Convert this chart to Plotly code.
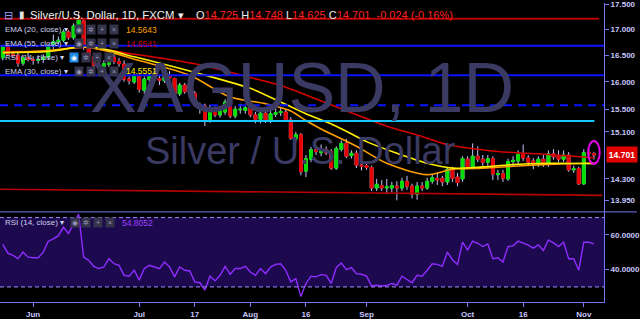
import math
import pandas as pd
import plotly.graph_objects as go

# ---------------- data ----------------
dates = pd.bdate_range("2018-05-24", "2018-11-05").strftime("%Y-%m-%d").tolist()

opens = [16.45, 16.66, 16.52, 16.50, 16.35, 16.45, 16.42, 16.40, 16.42, 16.46,
         16.68, 16.76, 16.79, 16.95, 16.84, 17.05, 17.17, 16.62, 16.47, 16.31,
         16.28, 16.33, 16.46, 16.38, 16.33, 16.05, 16.00, 16.10, 15.84, 16.04,
         16.09, 16.06, 16.02, 16.12, 16.06, 15.78, 15.94, 15.82, 15.79, 15.58,
         15.56, 15.30, 15.50, 15.40, 15.45, 15.62, 15.38, 15.49, 15.48, 15.53,
         15.40, 15.32, 15.43, 15.30, 15.41, 15.44, 15.45, 15.31, 14.98, 15.05,
         14.43, 14.63, 14.79, 14.74, 14.79, 14.76, 14.48, 14.80, 14.90, 14.69,
         14.73, 14.53, 14.52, 14.49, 14.15, 14.19, 14.15, 14.15, 14.18, 14.15,
         14.26, 14.18, 14.05, 14.18, 14.15, 14.26, 14.31, 14.31, 14.25, 14.46,
         14.33, 14.30, 14.63, 14.50, 14.68, 14.63, 14.58, 14.64, 14.37, 14.39,
         14.30, 14.59, 14.60, 14.71, 14.65, 14.60, 14.55, 14.63, 14.55, 14.72,
         14.68, 14.63, 14.70, 14.45, 14.47, 14.22, 14.74, 14.725]
highs = [16.70, 16.72, 16.56, 16.58, 16.50, 16.55, 16.48, 16.50, 16.52, 16.72,
         16.90, 16.86, 17.00, 16.98, 17.12, 17.34, 17.22, 16.66, 16.50, 16.38,
         16.40, 16.50, 16.52, 16.45, 16.40, 16.10, 16.15, 16.14, 16.10, 16.15,
         16.15, 16.12, 16.16, 16.20, 16.08, 15.98, 15.98, 15.86, 15.83, 15.62,
         15.60, 15.58, 15.55, 15.55, 15.68, 15.68, 15.56, 15.60, 15.58, 15.60,
         15.45, 15.48, 15.50, 15.47, 15.55, 15.52, 15.50, 15.36, 15.10, 15.08,
         14.70, 14.84, 14.86, 14.88, 14.85, 14.80, 14.85, 14.95, 14.98, 14.78,
         14.78, 14.60, 14.56, 14.52, 14.30, 14.28, 14.30, 14.25, 14.26, 14.32,
         14.35, 14.22, 14.25, 14.25, 14.32, 14.38, 14.40, 14.35, 14.50, 14.50,
         14.40, 14.68, 14.68, 14.90, 14.85, 14.70, 14.70, 14.68, 14.45, 14.45,
         14.64, 14.68, 14.78, 14.88, 14.70, 14.65, 14.68, 14.70, 14.78, 14.80,
         14.78, 14.78, 14.75, 14.52, 14.50, 14.80, 14.80, 14.748]
lows = [16.40, 16.48, 16.45, 16.28, 16.30, 16.38, 16.32, 16.34, 16.35, 16.42,
        16.62, 16.70, 16.75, 16.80, 16.80, 17.00, 16.60, 16.42, 16.25, 16.22,
        16.22, 16.28, 16.33, 16.28, 16.00, 15.95, 15.96, 15.80, 15.78, 16.00,
        16.00, 15.94, 15.98, 15.98, 15.74, 15.74, 15.78, 15.70, 15.55, 15.42,
        15.20, 15.26, 15.36, 15.35, 15.40, 15.34, 15.34, 15.42, 15.42, 15.36,
        15.25, 15.25, 15.26, 15.25, 15.36, 15.38, 15.28, 14.96, 14.92, 14.36,
        14.33, 14.58, 14.70, 14.68, 14.70, 14.45, 14.45, 14.76, 14.65, 14.64,
        14.48, 14.44, 14.45, 14.10, 14.10, 14.10, 14.05, 14.08, 13.95, 14.10,
        14.12, 13.98, 13.96, 14.10, 14.12, 14.22, 14.20, 14.18, 14.20, 14.25,
        14.18, 14.25, 14.46, 14.46, 14.58, 14.52, 14.52, 14.28, 14.28, 14.25,
        14.27, 14.50, 14.55, 14.60, 14.53, 14.46, 14.50, 14.50, 14.50, 14.62,
        14.58, 14.58, 14.42, 14.40, 14.20, 14.20, 14.66, 14.625]
closes = [16.66, 16.52, 16.50, 16.35, 16.45, 16.42, 16.40, 16.42, 16.46, 16.68,
          16.76, 16.79, 16.95, 16.84, 17.07, 17.19, 16.65, 16.48, 16.31, 16.29,
          16.34, 16.47, 16.38, 16.34, 16.05, 16.02, 16.11, 15.86, 16.05, 16.10,
          16.06, 16.03, 16.11, 16.07, 15.78, 15.94, 15.82, 15.80, 15.58, 15.56,
          15.30, 15.52, 15.40, 15.48, 15.63, 15.38, 15.50, 15.50, 15.53, 15.40,
          15.32, 15.43, 15.31, 15.42, 15.44, 15.46, 15.31, 14.99, 15.05, 14.42,
          14.64, 14.79, 14.76, 14.79, 14.74, 14.48, 14.81, 14.90, 14.68, 14.73,
          14.53, 14.51, 14.49, 14.15, 14.21, 14.15, 14.17, 14.19, 14.15, 14.26,
          14.18, 14.05, 14.18, 14.15, 14.26, 14.32, 14.28, 14.25, 14.46, 14.31,
          14.24, 14.64, 14.50, 14.68, 14.63, 14.58, 14.64, 14.38, 14.39, 14.31,
          14.59, 14.61, 14.71, 14.65, 14.58, 14.55, 14.63, 14.54, 14.72, 14.67,
          14.63, 14.70, 14.45, 14.47, 14.22, 14.74, 14.725, 14.701]

rsi = [54.5, 49.5, 48.2, 46.3, 50.1, 47.2, 46.8, 46.8, 50.1, 56.4,
       57.7, 59.6, 64.4, 60.9, 66.3, 72.0, 47.2, 45.3, 41.9, 40.6,
       41.5, 46.3, 43.4, 42.5, 36.7, 36.2, 39.6, 33.9, 40.6, 42.5,
       41.5, 40.6, 44.4, 41.5, 35.8, 41.5, 39.6, 39.2, 32.9, 32.4,
       28.2, 36.2, 33.5, 36.7, 41.9, 37.3, 40.6, 40.6, 41.9, 38.6,
       36.7, 40.6, 37.7, 41.5, 43.0, 43.4, 39.6, 32.9, 34.8, 24.4,
       32.0, 36.2, 35.8, 37.1, 36.7, 32.0, 41.1, 43.8, 40.0, 41.1,
       37.7, 37.3, 36.2, 30.5, 31.0, 30.5, 30.8, 32.0, 31.0, 36.2,
       34.3, 32.4, 36.7, 36.2, 39.6, 43.4, 43.0, 41.9, 50.1, 45.7,
       43.0, 55.8, 51.4, 56.4, 55.2, 53.3, 54.8, 46.3, 46.8, 44.4,
       53.3, 53.7, 56.4, 55.4, 54.1, 52.4, 54.3, 51.0, 57.1, 55.4,
       53.3, 55.8, 46.3, 46.3, 39.6, 55.8, 55.8, 54.8052]

# EMA readings (bar position in `dates`, value)
ema20_pos = [0, 9, 17, 27, 37, 45, 52, 57, 60, 63, 70, 76, 84, 89, 95, 101, 108, 117]
ema20_val = [16.55, 16.59, 16.65, 16.40, 16.12, 15.72, 15.60, 15.47, 15.30, 15.15,
             14.85, 14.56, 14.37, 14.46, 14.48, 14.51, 14.54, 14.5643]
ema30_pos = [0, 9, 17, 26, 29, 39, 49, 55, 60, 66, 72, 78, 84, 89, 95, 101, 108, 117]
ema30_val = [16.55, 16.57, 16.67, 16.47, 16.40, 16.15, 15.88, 15.63, 15.42, 15.20,
             14.93, 14.73, 14.56, 14.48, 14.50, 14.54, 14.56, 14.5551]
ema55_pos = [0, 9, 16, 26, 31, 39, 49, 55, 60, 70, 76, 83, 88, 98, 108, 117]
ema55_val = [16.57, 16.58, 16.65, 16.52, 16.45, 16.32, 16.08, 15.93, 15.76, 15.40,
             15.20, 15.02, 14.88, 14.76, 14.71, 14.6541]

# drawn horizontal levels
level_red_top = 17.21
level_blue = [16.68, 16.12]
level_blue_dash = 15.57
level_cyan = 15.29
trend_red = (14.13, 14.03)   # left / right value of the lower trend line

price_ticks = [17.5, 17.0, 16.5, 16.0, 15.5, 15.1, 14.3, 13.95]
rsi_ticks = [60, 40]
x_tick_dates = ["2018-06-01", "2018-07-02", "2018-07-17", "2018-08-01", "2018-08-16",
                "2018-09-03", "2018-10-01", "2018-10-16", "2018-11-01"]
x_tick_text = ["Jun", "Jul", "17", "Aug", "16", "Sep", "Oct", "16", "Nov"]

last_close = closes[-1]

# ---------------- style ----------------
FONT = "Liberation Sans"
GREEN = "#00e000"
RED = "#e60000"
WICK = "#c4c4ff"
AXIS = "#7676f0"
TICKTXT = "#c8c8ff"
W, H = 640, 319
PW, PH = 607, 302          # plot area size (px)
SPLIT = 211                # separator between price and RSI panes (px)

def px(xp):
    return xp / PW

def py(yp):
    return (PH - yp) / PH

fig = go.Figure()

# wicks (full range)
fig.add_trace(go.Candlestick(
    x=dates, open=opens, high=highs, low=lows, close=closes,
    increasing=dict(line=dict(color=WICK, width=1), fillcolor=GREEN),
    decreasing=dict(line=dict(color=WICK, width=1), fillcolor=RED),
    whiskerwidth=0, showlegend=False, hoverinfo="skip", xaxis="x", yaxis="y"))
# bodies
body_hi = [max(o, c) for o, c in zip(opens, closes)]
body_lo = [min(o, c) for o, c in zip(opens, closes)]
fig.add_trace(go.Candlestick(
    x=dates, open=opens, high=body_hi, low=body_lo, close=closes,
    increasing=dict(line=dict(color=GREEN, width=1), fillcolor=GREEN),
    decreasing=dict(line=dict(color=RED, width=1), fillcolor=RED),
    whiskerwidth=0, showlegend=False, hoverinfo="skip", xaxis="x", yaxis="y"))

for pos, val, col in [(ema55_pos, ema55_val, "#d40000"),
                      (ema20_pos, ema20_val, "#ffa000"),
                      (ema30_pos, ema30_val, "#ffee00")]:
    fig.add_trace(go.Scatter(
        x=[dates[k] for k in pos], y=val, mode="lines",
        line=dict(color=col, width=1.6, shape="spline", smoothing=0.8),
        showlegend=False, hoverinfo="skip", xaxis="x", yaxis="y"))

fig.add_trace(go.Scatter(
    x=dates, y=rsi, mode="lines", line=dict(color="#8f2cff", width=1.4),
    showlegend=False, hoverinfo="skip", xaxis="x", yaxis="y2"))

lg = math.log10
shapes = []
# RSI band
shapes.append(dict(type="rect", xref="paper", yref="y2", x0=0, x1=1, y0=30, y1=70,
                   fillcolor="#1d0a4e", line=dict(width=0), layer="below"))
for lv in (30, 70):
    shapes.append(dict(type="line", xref="paper", yref="y2", x0=0, x1=1, y0=lv, y1=lv,
                       line=dict(color="#a090ff", width=1, dash="4px,3px")))
# horizontal drawings (shape coordinates on a log axis are data values)
shapes.append(dict(type="line", xref="paper", yref="y", x0=0, x1=0.992,
                   y0=level_red_top, y1=level_red_top,
                   line=dict(color="#b80000", width=2)))
for lv in level_blue:
    shapes.append(dict(type="line", xref="paper", yref="y", x0=0, x1=1,
                       y0=lv, y1=lv, line=dict(color="#0a14ff", width=2)))
shapes.append(dict(type="line", xref="paper", yref="y", x0=0, x1=1,
                   y0=level_blue_dash, y1=level_blue_dash,
                   line=dict(color="#0a14ff", width=2, dash="8px,6px")))
shapes.append(dict(type="line", xref="paper", yref="y", x0=0, x1=0.984,
                   y0=level_cyan, y1=level_cyan,
                   line=dict(color="#19c6ff", width=2)))
shapes.append(dict(type="line", xref="paper", yref="y", x0=0, x1=0.997,
                   y0=trend_red[0], y1=trend_red[1],
                   line=dict(color="#b40000", width=1.6)))
# pane separator
shapes.append(dict(type="line", xref="paper", yref="paper", x0=0, x1=W / PW,
                   y0=py(SPLIT), y1=py(SPLIT), line=dict(color=AXIS, width=1)))
# highlight ellipse around last bar
kl = len(dates) - 1
shapes.append(dict(type="circle", xref="x", yref="y", x0=kl - 1.15, x1=kl + 1.15,
                   y0=lows[-1] * 0.995, y1=highs[-1] * 1.013,
                   line=dict(color="#e600e6", width=2)))

ann = []
def A(text, xp, yp, color, size, xanchor="left", **kw):
    d = dict(text=text, x=px(xp), y=py(yp), xref="paper", yref="paper",
             showarrow=False, xanchor=xanchor, yanchor="middle",
             font=dict(family=FONT, size=size, color=color))
    d.update(kw)
    ann.append(d)

# watermark
A("XAGUSD, 1D", 304, 86, "#3b3a62", 70, xanchor="center")
A("Silver / U.S. Dollar", 302, 149, "#3b3a62", 38, xanchor="center")

# header
A("⊟", 2, 12, "#9a9aff", 11)
A("▮", 17, 12, "#e0e0e0", 10)
A("Silver/U.S. Dollar, 1D, FXCM ▾", 28, 12, "#f0f0f0", 11.3)
rs = "<span style='color:#ff2020'>"
chg = closes[-1] - closes[-2]
A("O" + rs + "%.3f</span> H" % opens[-1] + rs + "%.3f</span> L" % highs[-1] + rs
  + "%.3f</span> C" % lows[-1] + rs
  + "%.3f\u00a0\u00a0%.3f (%.2f%%)</span>" % (closes[-1], chg, chg / closes[-2] * 100),
  195, 12, "#f0f0f0", 11)

LEG = "#d0d0ee"
rows = [("EMA (20, close) ▾", 27, "%.4f" % ema20_val[-1], "#ffa000", 75),
        ("EMA (55, close) ▾", 41, "%.4f" % ema55_val[-1], "#cc0000", 75),
        ("RSI (14, close) ▾", 55, None, None, 70),
        ("EMA (30, close) ▾", 69, "%.4f" % ema30_val[-1], "#ffee00", 75)]
for name, yy, val, vc, ix in rows:
    A(name, 3, yy, LEG, 8)
    for j, g in enumerate(["◉", "✲", "+", "×"]):
        hl = name.startswith("RSI") and j == 0
        A(g, ix + 4.5 + j * 11.7, yy, "#ffffff" if hl else "#9a9ab8", 7,
          xanchor="center", bgcolor="#1e88e5" if hl else "#33334a",
          width=8, height=9, borderpad=0)
    if val:
        A(val, 125, yy, vc, 8.5)

A("RSI (14, close) ▾", 3, 222, LEG, 8)
for j, g in enumerate(["◉", "✲", "+", "×"]):
    A(g, 75 + j * 11.7, 222, "#9a9ab8", 7, xanchor="center", bgcolor="#33334a",
      width=8, height=9, borderpad=0)
A("%.4f" % rsi[-1], 121, 222, "#a040ff", 8.5)

# last price tag
ann.append(dict(text="<b>%.3f</b>" % last_close, x=1.003, y=lg(last_close),
                xref="paper", yref="y", xanchor="left", yanchor="middle", showarrow=False,
                bgcolor="#e00000", font=dict(family=FONT, size=8.5, color="#ffffff"),
                width=28, height=13, borderpad=1))

tickfont = dict(family=FONT, size=8, color=TICKTXT, weight="bold")
fig.update_layout(
    width=W, height=H, margin=dict(l=0, r=W - PW, t=0, b=H - PH),
    paper_bgcolor="#000000", plot_bgcolor="rgba(0,0,0,0)",
    boxgap=0.2, showlegend=False, shapes=shapes, annotations=ann,
    font=dict(family=FONT),
    xaxis=dict(type="category", range=[-0.56, 119.0], anchor="y2",
               rangeslider=dict(visible=False), showgrid=False, zeroline=False,
               showline=True, linecolor=AXIS, linewidth=1, ticks="outside",
               ticklen=4, tickcolor=AXIS, tickvals=x_tick_dates, ticktext=x_tick_text,
               tickfont=tickfont, ticklabeloverflow="allow"),
    yaxis=dict(type="log", domain=[py(SPLIT), 1],
               range=[math.log10(13.764), math.log10(17.528)],
               side="right", anchor="x", showgrid=False, zeroline=False,
               showline=True, linecolor=AXIS, linewidth=1, ticks="outside",
               ticklen=4, tickcolor=AXIS, tickvals=price_ticks,
               ticktext=["%.3f" % v for v in price_ticks],
               tickfont=tickfont, ticklabeloverflow="allow"),
    yaxis2=dict(domain=[0, py(SPLIT)], range=[21.3, 73.3], side="right", anchor="x",
                showgrid=False, zeroline=False, showline=True, linecolor=AXIS,
                linewidth=1, ticks="outside", ticklen=4, tickcolor=AXIS,
                tickvals=rsi_ticks, ticktext=["%.4f" % v for v in rsi_ticks],
                tickfont=tickfont, ticklabeloverflow="allow"),
)

fig.write_html("out.html")
